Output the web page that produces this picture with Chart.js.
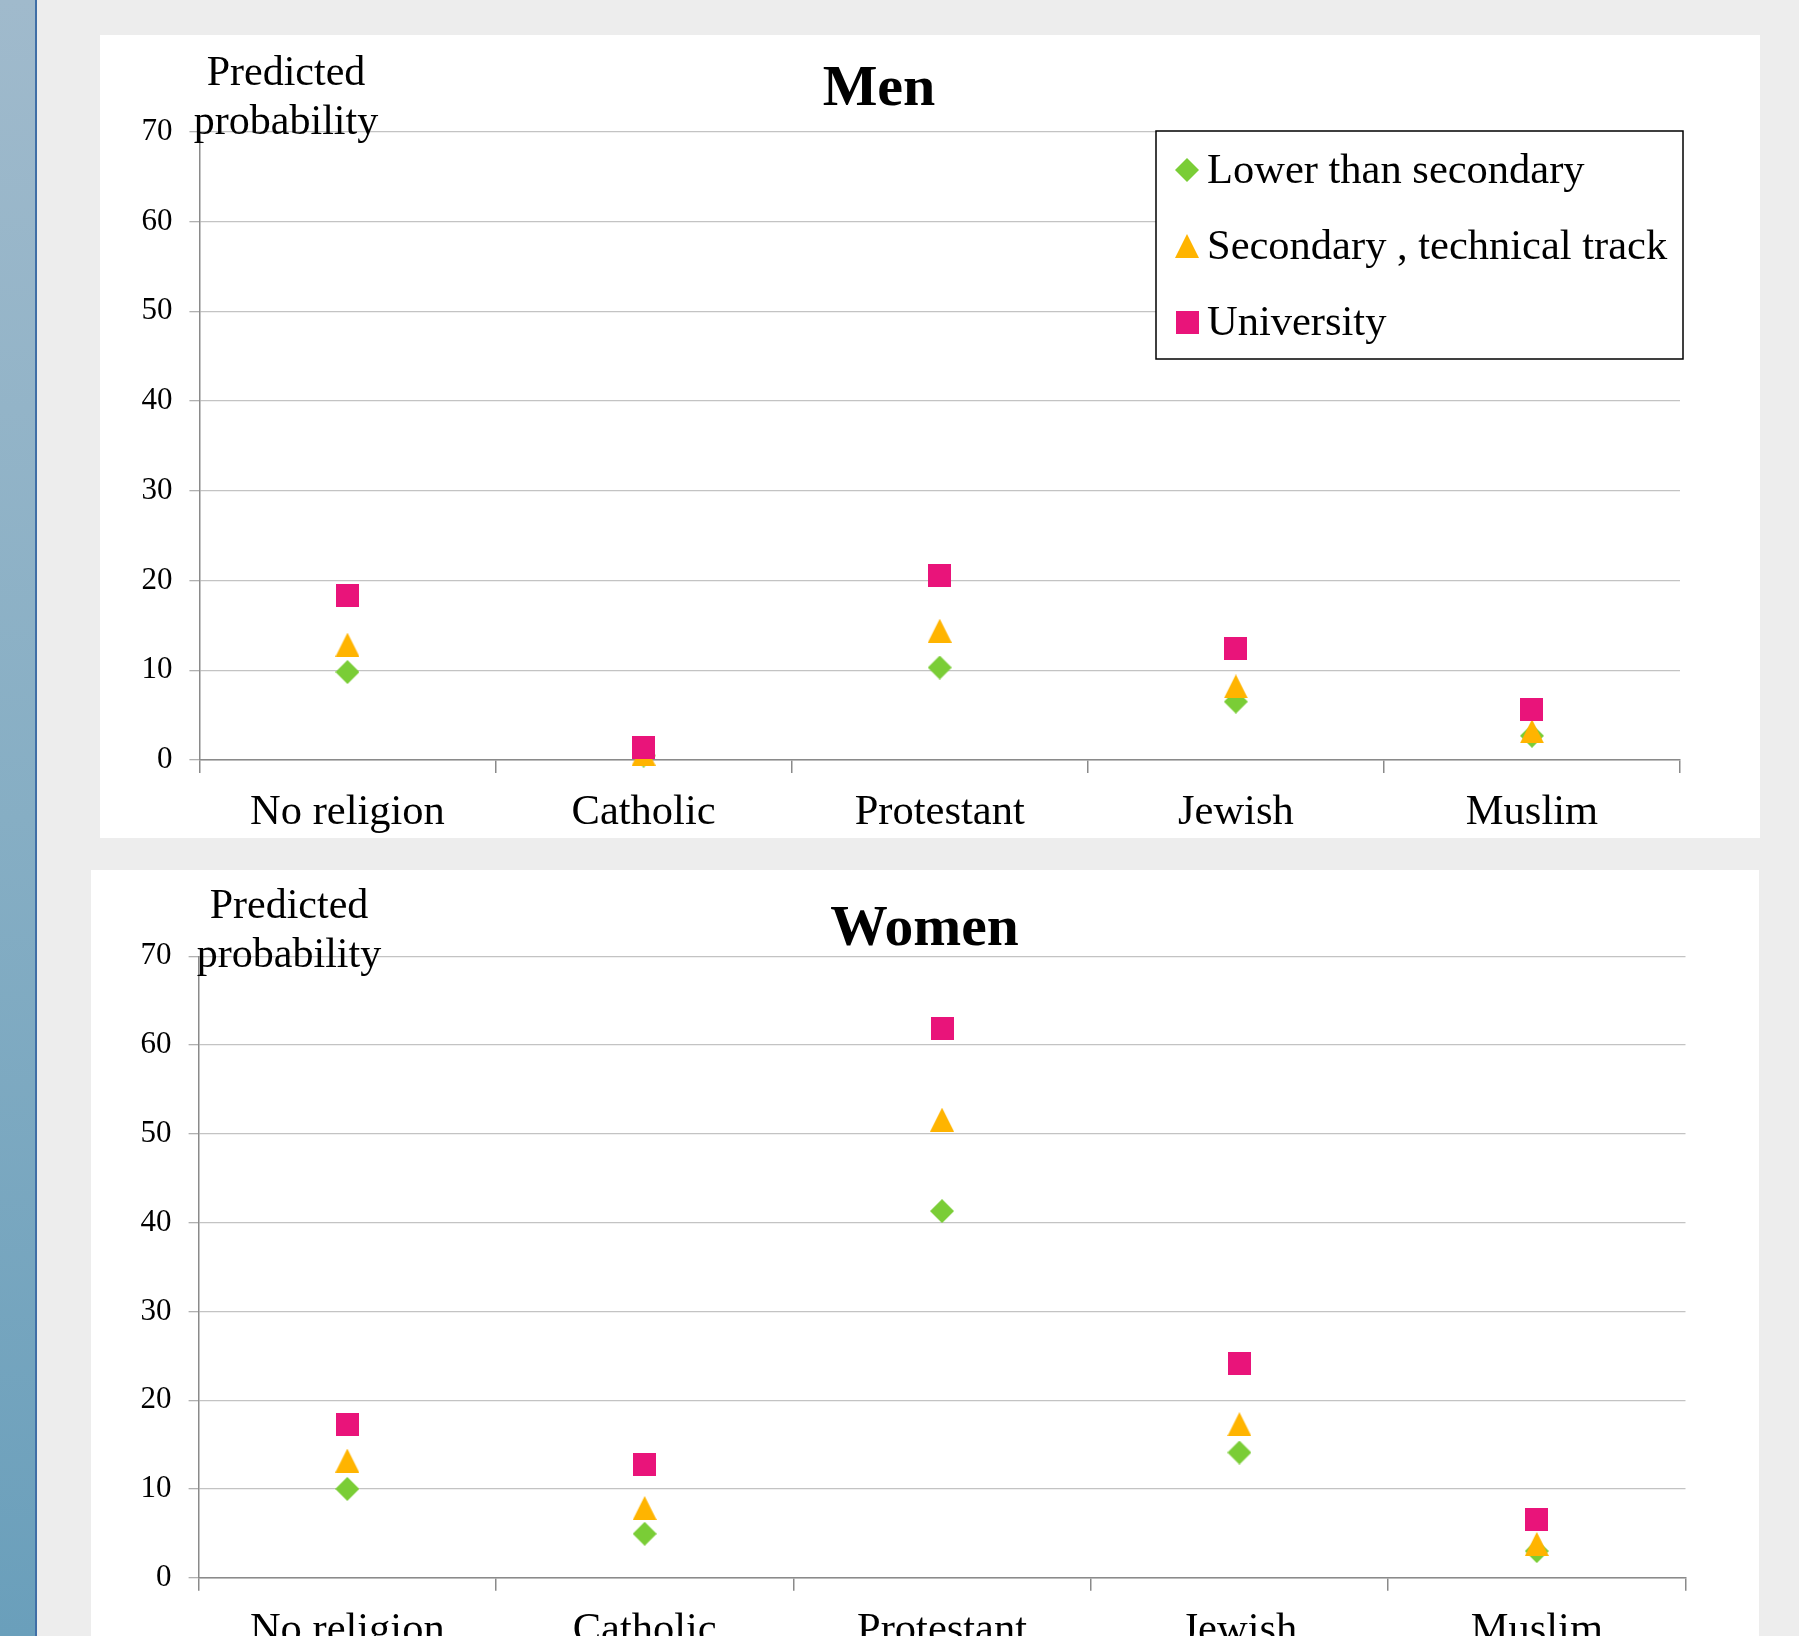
<!DOCTYPE html>
<html>
<head>
<meta charset="utf-8">
<title>Predicted probability by religion and education</title>
<script src="https://cdn.jsdelivr.net/npm/chart.js@4.4.1/dist/chart.umd.min.js"></script>
<style>
  html, body { margin: 0; padding: 0; }
  body { width: 1799px; height: 1636px; background: #ededed; position: relative; overflow: hidden; }
  #strip { position: absolute; left: 0; top: 0; width: 35px; height: 1636px;
           background: linear-gradient(to bottom, #a0bacc 0%, #86aec4 50%, #6a9fbb 100%); }
  #stripEdge { position: absolute; left: 35px; top: 0; width: 2px; height: 1636px; background: #3f6ea6; }
  .panel { position: absolute; background: #fff; }
  #menPanel { left: 100px; top: 35px; width: 1660px; height: 803px; }
  #womenPanel { left: 91px; top: 870px; width: 1668px; height: 766px; }
  canvas { display: block; }
</style>
</head>
<body>
<div id="strip"></div>
<div id="stripEdge"></div>
<div class="panel" id="menPanel"><canvas id="menChart" width="1660" height="803"></canvas></div>
<div class="panel" id="womenPanel"><canvas id="womenChart" width="1668" height="766"></canvas></div>

<script>
// Religion categories along the x axis
const categories = ['No religion', 'Catholic', 'Protestant', 'Jewish', 'Muslim'];

// Education levels (series)
const seriesNames = ['Lower than secondary', 'Secondary , technical track', 'University'];

// Predicted probability, men
const menLower      = [9.8, 0.5, 10.3, 6.5, 2.7];
const menSecondary  = [12.85, 0.7, 14.4, 8.2, 3.2];
const menUniversity = [18.3, 1.4, 20.6, 12.4, 5.6];

// Predicted probability, women
const womenLower      = [10.0, 4.95, 41.3, 14.1, 3.0];
const womenSecondary  = [13.2, 7.85, 51.6, 17.3, 3.8];
const womenUniversity = [17.3, 12.8, 61.9, 24.1, 6.6];

// Y axis ticks
const yTicks = [0, 10, 20, 30, 40, 50, 60, 70];

const FONT = '"Liberation Serif", "Times New Roman", serif';
const colors = ['#7acd36', '#ffb400', '#e9147a'];

// Marker images (diamond, triangle, square) drawn by the library as point styles
function makeMarker(kind, color) {
  const s = kind === 'square' ? 23 : 24;
  const c = document.createElement('canvas');
  c.width = s; c.height = s;
  const g = c.getContext('2d');
  g.fillStyle = color;
  g.beginPath();
  if (kind === 'diamond') {
    g.moveTo(0, s / 2); g.lineTo(s / 2, 0); g.lineTo(s, s / 2); g.lineTo(s / 2, s);
  } else if (kind === 'triangle') {
    g.moveTo(s / 2, 0); g.lineTo(s, s); g.lineTo(0, s);
  } else {
    g.rect(0, 0, s, s);
  }
  g.closePath();
  g.fill();
  return c;
}
const markers = [
  makeMarker('diamond', colors[0]),
  makeMarker('triangle', colors[1]),
  makeMarker('square', colors[2])
];

// Title, horizontal axis caption and boxed legend
const panelText = {
  id: 'panelText',
  afterDraw(chart, args, o) {
    const ctx = chart.ctx;
    const area = chart.chartArea;
    ctx.save();
    ctx.fillStyle = '#000';
    ctx.textAlign = 'center';
    ctx.textBaseline = 'alphabetic';
    ctx.font = 'bold ' + o.titleSize + 'px ' + FONT;
    ctx.fillText(o.title, o.titleX, o.titleY);
    ctx.font = '42px ' + FONT;
    o.caption.forEach((line, i) => ctx.fillText(line, o.captionX, o.captionY + i * o.captionGap));

    if (o.legend) {
      const L = o.legend;
      const left = area.right - L.fromRight;
      const top = area.top + L.dy;
      ctx.fillStyle = '#fff';
      ctx.fillRect(left, top, L.width, L.height);
      ctx.strokeStyle = '#000';
      ctx.lineWidth = 1.5;
      ctx.strokeRect(left, top, L.width, L.height);
      ctx.font = '42.5px ' + FONT;
      ctx.textAlign = 'left';
      ctx.textBaseline = 'middle';
      chart.data.datasets.forEach((ds, i) => {
        const cy = top + L.firstRow + i * L.rowGap;
        Chart.helpers.drawPoint(ctx, { pointStyle: ds.pointStyle, radius: 12, rotation: 0, borderWidth: 0 }, left + L.markerX, cy);
        ctx.fillStyle = '#000';
        ctx.fillText(ds.label, left + L.textX, cy + 2);
      });
    }
    ctx.restore();
  }
};

function buildChart(id, values, cfg) {
  const datasets = values.map((vals, i) => ({
    label: seriesNames[i],
    data: vals,
    pointStyle: markers[i],
    pointRadius: 12,
    pointHoverRadius: 12,
    backgroundColor: colors[i],
    borderColor: colors[i],
    showLine: false,
    clip: false,
    order: 3 - i
  }));

  return new Chart(document.getElementById(id), {
    type: 'line',
    data: { labels: categories, datasets },
    plugins: [panelText],
    options: {
      responsive: false,
      animation: false,
      events: [],
      layout: { padding: cfg.padding },
      plugins: {
        legend: { display: false },
        tooltip: { enabled: false },
        title: { display: false },
        panelText: cfg.text
      },
      scales: {
        x: {
          type: 'category',
          offset: true,
          afterFit(scale) { scale.height = cfg.xHeight; },
          grid: {
            offset: true,
            drawOnChartArea: false,
            drawTicks: true,
            tickLength: 13,
            color: '#8a8a8a',
            lineWidth: 1.5
          },
          border: { display: true, color: '#8a8a8a', width: 1.5 },
          ticks: {
            color: '#000',
            font: { family: FONT, size: 42.5, lineHeight: 1.2 },
            padding: 14.5,
            maxRotation: 0,
            autoSkip: false
          }
        },
        y: {
          min: 0,
          max: 70,
          afterFit(scale) { scale.width = cfg.yWidth; },
          afterBuildTicks(scale) { scale.ticks = yTicks.map(v => ({ value: v })); },
          grid: {
            color: '#c3c3c3',
            lineWidth: 1.3,
            drawTicks: true,
            tickLength: 10,
            tickColor: '#b0b0b0'
          },
          border: { display: true, color: '#8a8a8a', width: 1.5 },
          ticks: {
            color: '#000',
            font: { family: FONT, size: 31 },
            padding: 17
          }
        }
      }
    }
  });
}

buildChart('menChart', [menLower, menSecondary, menUniversity], {
  padding: { top: 96.7, right: 80, left: 0, bottom: 0 },
  yWidth: 99.4,
  xHeight: 78,
  text: {
    title: 'Men', titleSize: 58, titleX: 779, titleY: 70,
    caption: ['Predicted', 'probability'], captionX: 186, captionY: 50, captionGap: 49,
    legend: { fromRight: 524, dy: -0.7, width: 527, height: 228, markerX: 31, textX: 51, firstRow: 39, rowGap: 76 }
  }
});

buildChart('womenChart', [womenLower, womenSecondary, womenUniversity], {
  padding: { top: 86.3, right: 73.5, left: 0, bottom: 0 },
  yWidth: 107.6,
  xHeight: 58.3,
  text: {
    title: 'Women', titleSize: 57.5, titleX: 833.5, titleY: 75,
    caption: ['Predicted', 'probability'], captionX: 198, captionY: 48, captionGap: 49,
    legend: null
  }
});
</script>
</body>
</html>
